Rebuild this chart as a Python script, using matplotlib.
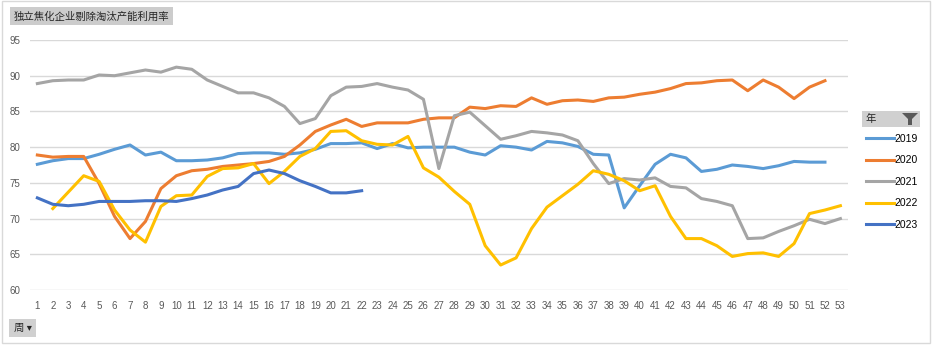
import matplotlib
matplotlib.use("Agg")
import matplotlib.pyplot as plt
from matplotlib.patches import Rectangle, Polygon

plt.rcParams['font.family'] = ['Liberation Sans', 'Noto Sans CJK SC', 'DejaVu Sans']

weeks = list(range(1, 54))

y2019 = [77.6, 78.1, 78.4, 78.4, 79.0, 79.7, 80.3, 78.9, 79.3, 78.1,
         78.1, 78.2, 78.5, 79.1, 79.2, 79.2, 79.0, 79.2, 79.7, 80.5,
         80.5, 80.6, 79.8, 80.5, 79.9, 80.0, 80.0, 80.0, 79.3, 78.9,
         80.2, 80.0, 79.6, 80.8, 80.6, 80.1, 79.0, 78.9, 71.5, 74.6,
         77.6, 79.0, 78.5, 76.6, 76.9, 77.5, 77.3, 77.0, 77.4, 78.0,
         77.9, 77.9]
y2020 = [78.9, 78.6, 78.7, 78.7, 74.9, 70.3, 67.2, 69.6, 74.2, 76.0,
         76.7, 76.9, 77.3, 77.5, 77.7, 78.0, 78.7, 80.3, 82.2, 83.1,
         83.9, 82.9, 83.4, 83.4, 83.4, 83.9, 84.1, 84.1, 85.6, 85.4,
         85.8, 85.7, 86.9, 86.0, 86.5, 86.6, 86.4, 86.9, 87.0, 87.4,
         87.7, 88.2, 88.9, 89.0, 89.3, 89.4, 87.9, 89.4, 88.4, 86.8,
         88.4, 89.3]
y2021 = [88.9, 89.3, 89.4, 89.4, 90.1, 90.0, 90.4, 90.8, 90.5, 91.2,
         90.9, 89.4, 88.5, 87.6, 87.6, 86.9, 85.7, 83.3, 84.0, 87.2,
         88.4, 88.5, 88.9, 88.4, 88.0, 86.7, 77.0, 84.4, 84.9, 83.0,
         81.1, 81.6, 82.2, 82.0, 81.7, 80.9, 77.7, 74.9, 75.6, 75.4,
         75.7, 74.5, 74.3, 72.8, 72.4, 71.8, 67.2, 67.3, 68.2, 69.0,
         69.9, 69.3, 70.0]
# 2022 has no value for week 1
y2022 = [None, 71.4, 73.7, 76.0, 75.2, 71.2, 68.4, 66.7, 71.7, 73.2,
         73.3, 75.9, 77.0, 77.1, 77.7, 74.9, 76.6, 78.7, 79.8, 82.2,
         82.3, 80.9, 80.4, 80.3, 81.5, 77.1, 75.8, 73.8, 72.0, 66.2,
         63.5, 64.5, 68.6, 71.6, 73.2, 74.8, 76.7, 76.2, 75.3, 73.9,
         74.6, 70.3, 67.2, 67.2, 66.2, 64.7, 65.1, 65.2, 64.7, 66.5,
         70.7, 71.2, 71.8]
y2023 = [72.9, 72.0, 71.8, 72.0, 72.4, 72.4, 72.4, 72.5, 72.5, 72.4,
         72.8, 73.3, 74.0, 74.5, 76.3, 76.8, 76.3, 75.3, 74.5, 73.6,
         73.6, 73.9]

series = [("2019", y2019, "#5B9BD5"),
          ("2020", y2020, "#ED7D31"),
          ("2021", y2021, "#A5A5A5"),
          ("2022", y2022, "#FFC000"),
          ("2023", y2023, "#4472C4")]

fig = plt.figure(figsize=(9.32, 3.46), dpi=100)
ax = fig.add_axes([0.0318, 0.1618, 0.8782, 0.7226])

for name, vals, col in series:
    xs = [w for w, v in zip(weeks, vals) if v is not None]
    ys = [v for v in vals if v is not None]
    ax.plot(xs, ys, color=col, lw=2.2, label=name, solid_joinstyle='round')

ax.set_xlim(0.5, 53.5)
ax.set_ylim(60, 95)
ax.set_yticks(range(60, 96, 5))
ax.set_xticks(weeks)
ax.grid(axis='y', color='#d9d9d9', lw=1)
ax.set_axisbelow(True)
for s in ax.spines.values():
    s.set_visible(False)
ax.tick_params(length=0, labelsize=7, colors='#595959', pad=8)
ax.tick_params(axis='y', pad=7)

leg = ax.legend(loc='upper left', bbox_to_anchor=(0.925, 0.625), bbox_transform=fig.transFigure,
                frameon=False, fontsize=7.5, handlelength=2.7, handletextpad=0.05,
                labelspacing=1.1, borderaxespad=0)

# title button
fig.text(0.0145, 0.953, "独立焦化企业剔除淘汰产能利用率", fontsize=7.5, color='#262626',
         family=['Noto Sans CJK SC'], va='center', ha='left',
         bbox=dict(boxstyle='square,pad=0.35', fc='#cccccc', ec='none'))

# legend header "年" with filter icon
fig.patches.append(Rectangle((862 / 932, 1 - 127 / 346), 58 / 932, 16 / 346,
                             transform=fig.transFigure, fc='#d0d0d0', ec='none'))
fig.text(866 / 932, 1 - 119 / 346, "年", fontsize=7.5, family=['Noto Sans CJK SC'],
         va='center', ha='left', color='#262626')
funnel = [(902, 113), (918, 113), (912, 119), (912, 125), (908, 125), (908, 119)]
fig.patches.append(Polygon([(x / 932, 1 - y / 346) for x, y in funnel], closed=True,
                           transform=fig.transFigure, fc='#595959', ec='none'))

# field button "周"
fig.text(0.0145, 1 - 328 / 346, "周 ▾", fontsize=7.5, color='#262626',
         family=['Noto Sans CJK SC', 'DejaVu Sans'], va='center', ha='left',
         bbox=dict(boxstyle='square,pad=0.4', fc='#d0d0d0', ec='none'))

# chart border
fig.patches.append(Rectangle((0.002, 0.008), 0.996, 0.988, transform=fig.transFigure,
                             fc='none', ec='#d9d9d9', lw=1))

fig.savefig("out.png", dpi=100)
